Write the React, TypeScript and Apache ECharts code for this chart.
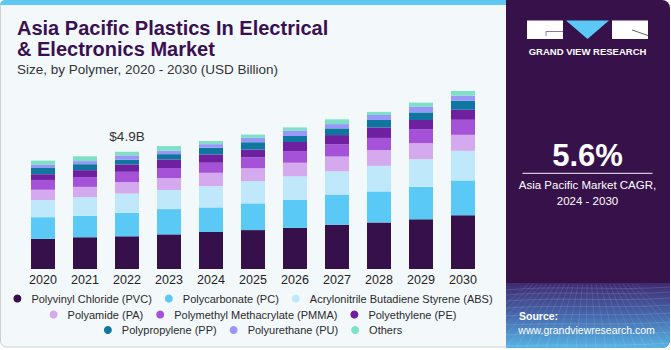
import React, { useEffect, useRef } from "react";
import * as echarts from "echarts";

const years = ["2020", "2021", "2022", "2023", "2024", "2025", "2026", "2027", "2028", "2029", "2030"];
const pvc = [1.26, 1.33, 1.37, 1.45, 1.55, 1.63, 1.72, 1.85, 1.95, 2.08, 2.25];
const pc = [0.91, 0.9, 0.98, 1.06, 1.03, 1.12, 1.17, 1.27, 1.3, 1.36, 1.46];
const abs = [0.72, 0.78, 0.81, 0.8, 0.89, 0.93, 0.99, 0.97, 1.07, 1.16, 1.24];
const pa = [0.43, 0.43, 0.48, 0.5, 0.56, 0.54, 0.57, 0.62, 0.66, 0.67, 0.67];
const pmma = [0.41, 0.41, 0.43, 0.42, 0.42, 0.46, 0.49, 0.51, 0.51, 0.59, 0.63];
const pe = [0.24, 0.29, 0.31, 0.36, 0.35, 0.32, 0.38, 0.39, 0.44, 0.38, 0.42];
const pp = [0.26, 0.25, 0.2, 0.22, 0.28, 0.31, 0.25, 0.28, 0.31, 0.32, 0.38];
const pu = [0.13, 0.13, 0.18, 0.14, 0.15, 0.18, 0.22, 0.18, 0.21, 0.23, 0.21];
const others = [0.18, 0.2, 0.15, 0.2, 0.13, 0.14, 0.14, 0.2, 0.13, 0.18, 0.2];

const seriesNames = [
  "Polyvinyl Chloride (PVC)",
  "Polycarbonate (PC)",
  "Acrylonitrile Butadiene Styrene (ABS)",
  "Polyamide (PA)",
  "Polymethyl Methacrylate (PMMA)",
  "Polyethylene (PE)",
  "Polypropylene (PP)",
  "Polyurethane (PU)",
  "Others",
];
const seriesData = [pvc, pc, abs, pa, pmma, pe, pp, pu, others];
const seriesColors = ["#36104a", "#5bc9f5", "#bfe9fa", "#d5a9ed", "#a551d8", "#6e20a0", "#0f779f", "#9b97f9", "#7fe0c8"];
const labelledIndex = 2;

const titleLines = ["Asia Pacific Plastics In Electrical", "& Electronics Market"];
const subtitle = "Size, by Polymer, 2020 - 2030 (USD Billion)";
const cagrValue = "5.6%";
const cagrLines = ["Asia Pacific Market CAGR,", "2024 - 2030"];

const FONT = "'Liberation Sans', Arial, Helvetica, sans-serif";

export default function App() {
  const leftRef = useRef<HTMLDivElement>(null);
  const rightRef = useRef<HTMLDivElement>(null);

  useEffect(() => {
    const left = echarts.init(leftRef.current!, undefined, { renderer: "svg" });
    const right = echarts.init(rightRef.current!, undefined, { renderer: "svg" });

    const totals = years.map((_, i) => seriesData.reduce((s, arr) => s + arr[i], 0));

    const legendCommon = {
      icon: "circle",
      itemWidth: 8,
      itemHeight: 8,
      itemGap: 13,
      left: "center",
      selectedMode: false,
      formatter: "{t|{name}}",
      textStyle: {
        rich: { t: { padding: [0, 0, 0, 5], fontSize: 11, color: "#2a2a2a", fontFamily: FONT } },
      },
    };

    left.setOption({
      animation: false,
      textStyle: { fontFamily: FONT },
      graphic: [
        {
          type: "rect",
          shape: { x: 0.5, y: 0.5, width: 510, height: 346.5, r: 6 },
          style: { fill: "#f3f8fb", stroke: "#cdd0d3", lineWidth: 1 },
          z: -10,
        },
        {
          type: "rect",
          shape: { x: 0, y: 0, width: 510, height: 5, r: [5, 0, 0, 0] },
          style: { fill: "#5ec8f2" },
          z: -9,
        },
        {
          type: "text",
          x: 17,
          y: 28,
          style: { text: titleLines[0], fontSize: 20, fontWeight: "bold", fill: "#3a1050", fontFamily: FONT, verticalAlign: "middle" },
        },
        {
          type: "text",
          x: 17,
          y: 49,
          style: { text: titleLines[1], fontSize: 20, fontWeight: "bold", fill: "#3a1050", fontFamily: FONT, verticalAlign: "middle" },
        },
        {
          type: "text",
          x: 17,
          y: 69.5,
          style: { text: subtitle, fontSize: 13.5, fill: "#333333", fontFamily: FONT, verticalAlign: "middle" },
        },
      ],
      grid: { left: 22, right: 22, top: 78, bottom: 81 },
      xAxis: {
        type: "category",
        data: years,
        axisLine: { show: false },
        axisTick: { show: false },
        axisLabel: { fontSize: 12.5, color: "#222", margin: 4, fontFamily: FONT },
      },
      yAxis: { type: "value", min: 0, max: 8, show: false },
      legend: [
        { ...legendCommon, top: 288, data: seriesNames.slice(0, 3) },
        { ...legendCommon, top: 304, data: seriesNames.slice(3, 6) },
        { ...legendCommon, top: 319.5, data: seriesNames.slice(6, 9) },
      ],
      series: seriesNames.map((name, si) => ({
        name,
        type: "bar",
        stack: "total",
        barWidth: 24,
        itemStyle: { color: seriesColors[si] },
        data: seriesData[si].map((v, i) =>
          si === seriesNames.length - 1 && i === labelledIndex
            ? {
                value: v,
                label: {
                  show: true,
                  position: "top",
                  distance: 8,
                  formatter: `$${totals[i].toFixed(1)}B`,
                  fontSize: 13.5,
                  color: "#333",
                  fontFamily: FONT,
                },
              }
            : v
        ),
      })),
    });

    const cx = 81.5;
    // faint mesh texture in the bottom band of the side panel
    const mesh: any[] = [];
    const rows = [288, 293, 299, 306, 314, 323, 333, 344];
    rows.forEach((y, k) => {
      mesh.push({
        type: "bezierCurve",
        shape: { x1: 0, y1: y + 2, x2: 164, y2: y - 1, cpx1: 55, cpy1: y - 3 + k * 0.4, cpx2: 110, cpy2: y + 3 },
        style: { stroke: "rgba(255,255,255,0.16)", lineWidth: 0.8, fill: "none" },
      });
    });
    for (let i = -6; i <= 18; i++) {
      const xb = 10 + i * 10;
      const xt = 82 + (xb - 82) * 0.45;
      mesh.push({
        type: "line",
        shape: { x1: xt, y1: 284, x2: xb, y2: 348 },
        style: { stroke: "rgba(255,255,255,0.13)", lineWidth: 0.8 },
      });
    }

    right.setOption({
      animation: false,
      graphic: [
        {
          type: "rect",
          shape: { x: 0, y: 0, width: 164, height: 348, r: [0, 8, 8, 0] },
          style: { fill: "#37124a" },
        },
        {
          type: "group",
          clipPath: { type: "rect", shape: { x: 0, y: 283, width: 164, height: 65 } },
          children: [
            {
              type: "rect",
              shape: { x: 0, y: 283, width: 164, height: 65, r: [0, 0, 8, 0] },
              style: {
                fill: {
                  type: "linear",
                  x: 0,
                  y: 0,
                  x2: 0,
                  y2: 1,
                  colorStops: [
                    { offset: 0, color: "#3e2b70" },
                    { offset: 0.5, color: "#4668ad" },
                    { offset: 1, color: "#57b4e4" },
                  ],
                },
              },
            },
            ...mesh,
          ],
        },
        // logo
        { type: "rect", shape: { x: 21, y: 20.5, width: 36, height: 18.5 }, style: { fill: "#ffffff" } },
        { type: "line", shape: { x1: 40, y1: 31.5, x2: 57, y2: 31.5 }, style: { stroke: "#8a7a96", lineWidth: 1 } },
        { type: "line", shape: { x1: 40, y1: 31.5, x2: 40, y2: 36 }, style: { stroke: "#8a7a96", lineWidth: 1 } },
        { type: "polygon", shape: { points: [[60, 20.5], [103, 20.5], [81.5, 39]] }, style: { fill: "#5bc9f5" } },
        { type: "rect", shape: { x: 106, y: 20.5, width: 36, height: 18.5 }, style: { fill: "#ffffff" } },
        { type: "line", shape: { x1: 126, y1: 30, x2: 142, y2: 35.5 }, style: { stroke: "#6a5a7a", lineWidth: 1 } },
        {
          type: "text",
          x: cx,
          y: 51.2,
          style: { text: "GRAND VIEW RESEARCH", fontSize: 9.5, fontWeight: "bold", fill: "#ffffff", fontFamily: FONT, align: "center", verticalAlign: "middle" },
        },
        {
          type: "text",
          x: cx,
          y: 155,
          style: { text: cagrValue, fontSize: 31, fontWeight: "bold", fill: "#ffffff", fontFamily: FONT, align: "center", verticalAlign: "middle" },
        },
        { type: "line", shape: { x1: 16.5, y1: 173.3, x2: 146.5, y2: 173.3 }, style: { stroke: "#cfc6da", lineWidth: 1.2 } },
        {
          type: "text",
          x: cx,
          y: 185.3,
          style: { text: cagrLines[0], fontSize: 11.5, fill: "#ffffff", fontFamily: FONT, align: "center", verticalAlign: "middle" },
        },
        {
          type: "text",
          x: cx,
          y: 200.5,
          style: { text: cagrLines[1], fontSize: 11.5, fill: "#ffffff", fontFamily: FONT, align: "center", verticalAlign: "middle" },
        },
        {
          type: "text",
          x: 13,
          y: 316,
          style: { text: "Source:", fontSize: 10.5, fontWeight: "bold", fill: "#ffffff", fontFamily: FONT, verticalAlign: "middle" },
        },
        {
          type: "text",
          x: 12.3,
          y: 330,
          style: { text: "www.grandviewresearch.com", fontSize: 10.5, fill: "#ffffff", fontFamily: FONT, verticalAlign: "middle" },
        },
      ],
    });

    return () => {
      left.dispose();
      right.dispose();
    };
  }, []);

  return (
    <div style={{ position: "fixed", left: 0, top: 0, width: 671, height: 350, background: "#ffffff", overflow: "hidden" }}>
      <div ref={leftRef} style={{ position: "absolute", left: 0, top: 0, width: 506, height: 350 }} />
      <div ref={rightRef} style={{ position: "absolute", left: 506, top: 0, width: 165, height: 350 }} />
    </div>
  );
}
